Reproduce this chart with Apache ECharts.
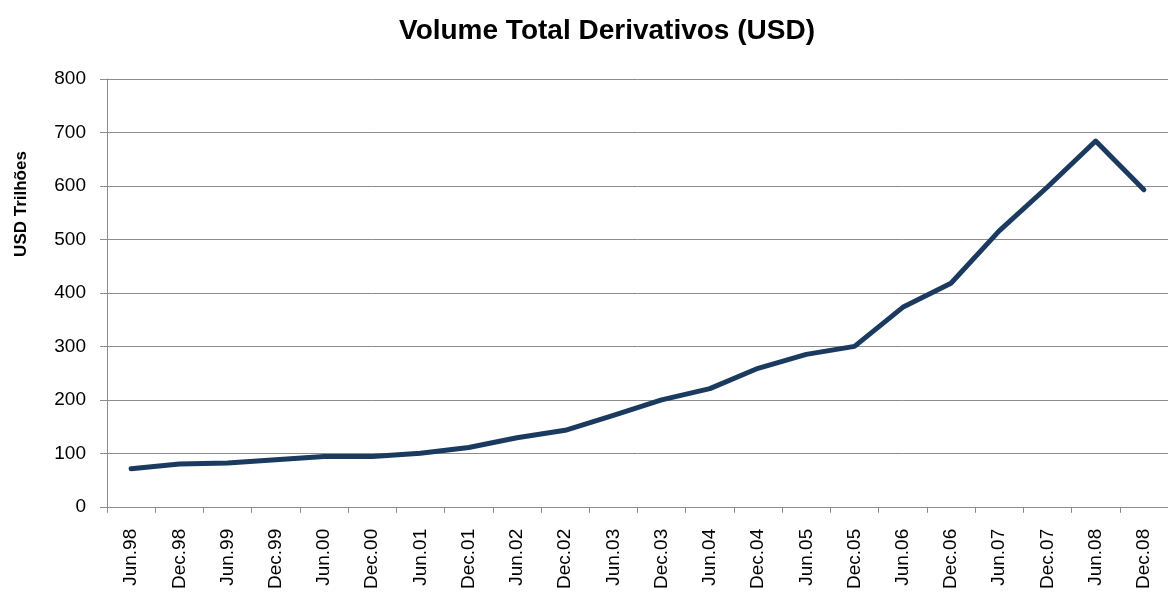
<!DOCTYPE html>
<html>
<head>
<meta charset="utf-8">
<script src="https://cdn.jsdelivr.net/npm/echarts@6/dist/echarts.min.js"></script>
<style>html,body{margin:0;padding:0;background:#fff}#c{width:1168px;height:592px}</style>
</head>
<body>
<div id="c"></div>
<script>
const categories = ['Jun.98','Dec.98','Jun.99','Dec.99','Jun.00','Dec.00','Jun.01','Dec.01','Jun.02','Dec.02','Jun.03','Dec.03','Jun.04','Dec.04','Jun.05','Dec.05','Jun.06','Dec.06','Jun.07','Dec.07','Jun.08','Dec.08'];
const volume = [71, 80, 82, 88, 94, 94, 100, 111, 129, 143, 171, 200, 221, 259, 285, 300, 373, 418, 516, 598, 684, 593];
const titleText = 'Volume Total Derivativos (USD)';
const yAxisTitle = 'USD Trilhões';

const chart = echarts.init(document.getElementById('c'), null, {renderer: 'canvas'});
const font = 'Liberation Sans, Arial, sans-serif';
chart.setOption({
  animation: false,
  backgroundColor: '#fff',
  title: {
    text: titleText,
    left: 602, top: 12, textAlign: 'center',
    textStyle: {fontFamily: font, fontSize: 28, fontWeight: 'bold', color: '#000'}
  },
  graphic: [{
    type: 'text',
    x: 21, y: 204,
    rotation: Math.PI / 2,
    style: {text: yAxisTitle, font: 'bold 17px ' + font, fill: '#000', align: 'center', verticalAlign: 'middle'}
  }],
  grid: {left: 107, right: -6, top: 79, bottom: 83, containLabel: false},
  xAxis: {
    type: 'category',
    data: categories,
    boundaryGap: true,
    axisLine: {lineStyle: {color: '#8c8c8c', width: 1}},
    axisTick: {show: true, length: 6, alignWithLabel: false, lineStyle: {color: '#8c8c8c'}},
    axisLabel: {rotate: 90, interval: 0, margin: 22, fontFamily: font, fontSize: 19, color: '#000'},
    splitLine: {show: false}
  },
  yAxis: {
    type: 'value',
    min: 0, max: 800, interval: 100,
    axisLine: {show: true, lineStyle: {color: '#8c8c8c', width: 1}},
    axisTick: {show: true, length: 7, lineStyle: {color: '#8c8c8c'}},
    axisLabel: {margin: 21, fontFamily: font, fontSize: 19, color: '#000'},
    splitLine: {show: true, lineStyle: {color: '#8c8c8c', width: 1}}
  },
  series: [{
    type: 'line',
    data: volume,
    symbol: 'none',
    lineStyle: {color: '#1b3a5f', width: 5, cap: 'round', join: 'round'},
    itemStyle: {color: '#1b3a5f'}
  }]
});
</script>
</body>
</html>
